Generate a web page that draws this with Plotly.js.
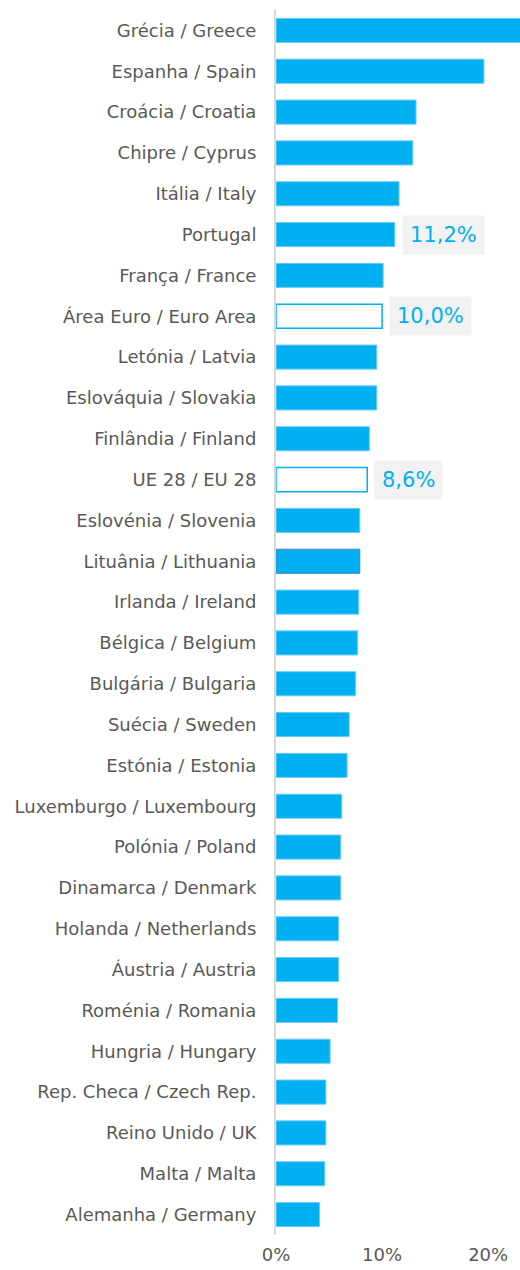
<!DOCTYPE html>
<html><head><meta charset="utf-8">
<script src="https://cdn.plot.ly/plotly-3.0.1.min.js"></script>
<style>body{margin:0;background:#fff}#c{width:520px;height:1270px}</style>
</head><body><div id="c"></div>
<script>
const categories = ["Grécia / Greece","Espanha / Spain","Croácia / Croatia","Chipre / Cyprus","Itália / Italy","Portugal","França / France","Área Euro / Euro Area","Letónia / Latvia","Eslováquia / Slovakia","Finlândia / Finland","UE 28 / EU 28","Eslovénia / Slovenia","Lituânia / Lithuania","Irlanda / Ireland","Bélgica / Belgium","Bulgária / Bulgaria","Suécia / Sweden","Estónia / Estonia","Luxemburgo / Luxembourg","Polónia / Poland","Dinamarca / Denmark","Holanda / Netherlands","Áustria / Austria","Roménia / Romania","Hungria / Hungary","Rep. Checa / Czech Rep.","Reino Unido / UK","Malta / Malta","Alemanha / Germany"];
const values = [23.6,19.6,13.2,12.9,11.6,11.2,10.1,10.0,9.5,9.5,8.8,8.6,7.9,7.9,7.8,7.7,7.5,6.9,6.7,6.2,6.1,6.1,5.9,5.9,5.8,5.1,4.7,4.7,4.6,4.1];
const highlighted = ["Portugal","Área Euro / Euro Area","UE 28 / EU 28"];
const aggregates = ["Área Euro / Euro Area","UE 28 / EU 28"];
const tickValues = [0,10,20];
const tickLabels = ["0%","10%","20%"];

const blue = "#00b0f0";
const fills = categories.map(c => aggregates.includes(c) ? "#ffffff" : blue);
const lines = categories.map(c => aggregates.includes(c) ? blue : (c==="Lituânia / Lithuania" ? "#4f81bd" : "#6fcdf3"));
const lw = categories.map(c => aggregates.includes(c) ? 1.5 : 1);

const trace = {
  type:"bar", orientation:"h", x:values, y:categories,
  marker:{color:fills, line:{color:lines, width:lw}},
  hoverinfo:"none", cliponaxis:true
};
const annotations = highlighted.map(c => {
  const v = values[categories.indexOf(c)];
  return {x:v, y:c, xref:"x", yref:"y", xanchor:"left", yanchor:"middle", xshift:7,
    text:v.toFixed(1).replace(".",",")+"%", showarrow:false,
    font:{family:"DejaVu Sans", size:21, color:blue},
    bgcolor:"#f2f2f2", borderpad:7};
});
const layout = {
  width:520, height:1270,
  margin:{l:276, r:0, t:10, b:35},
  paper_bgcolor:"#fff", plot_bgcolor:"#fff",
  font:{family:"DejaVu Sans", size:18, color:"#595959"},
  bargap:0.41,
  showlegend:false,
  xaxis:{range:[0,23.0], tickvals:tickValues, ticktext:tickLabels, showgrid:false, zeroline:false, showline:false, ticks:"", ticklabelstandoff:7, tickfont:{size:18, color:"#595959"}, fixedrange:true},
  yaxis:{autorange:"reversed", showgrid:false, zeroline:false, showline:true, linecolor:"#d9d9d9", linewidth:2, ticks:"", ticklabelstandoff:14, tickfont:{size:18, color:"#595959"}, fixedrange:true},
  annotations:annotations
};
Plotly.newPlot("c",[trace],layout,{displayModeBar:false, staticPlot:true});
</script></body></html>
